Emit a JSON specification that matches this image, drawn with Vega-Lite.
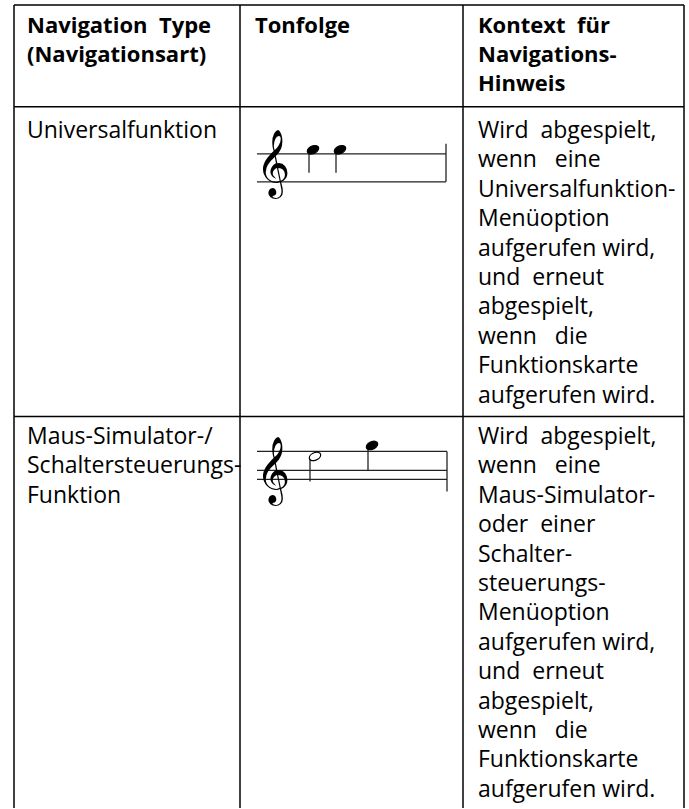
{
  "$schema": "https://vega.github.io/schema/vega-lite/v6.json",
  "width": 689,
  "height": 809,
  "autosize": {"type": "fit", "contains": "padding"},
  "padding": 0,
  "background": "white",
  "config": {"view": {"stroke": null}},
  "datasets": {
    "grid": [
      {"x": 14, "x2": 684, "y": 5, "y2": 5},
      {"x": 14, "x2": 684, "y": 107, "y2": 107},
      {"x": 14, "x2": 684, "y": 417, "y2": 417},
      {"x": 14, "x2": 14, "y": 5, "y2": 809},
      {"x": 240, "x2": 240, "y": 5, "y2": 809},
      {"x": 463, "x2": 463, "y": 5, "y2": 809},
      {"x": 684, "x2": 684, "y": 5, "y2": 809}
    ],
    "texts": [
      {"part": "header", "x": 27, "y": 33, "t": "Navigation\u00a0\u00a0Type"},
      {"part": "header", "x": 27, "y": 62, "t": "(Navigationsart)"},
      {"part": "header", "x": 255, "y": 33, "t": "Tonfolge"},
      {"part": "header", "x": 478, "y": 33, "t": "Kontext\u00a0\u00a0für"},
      {"part": "header", "x": 478, "y": 62, "t": "Navigations-"},
      {"part": "header", "x": 478, "y": 91, "t": "Hinweis"},
      {"part": "body", "x": 27, "y": 138, "t": "Universalfunktion"},
      {"part": "body", "x": 478, "y": 138, "t": "Wird\u00a0\u00a0abgespielt,"},
      {"part": "body", "x": 478, "y": 167, "t": "wenn\u00a0\u00a0\u00a0eine"},
      {"part": "body", "x": 478, "y": 197, "t": "Universalfunktion-"},
      {"part": "body", "x": 478, "y": 226, "t": "Menüoption"},
      {"part": "body", "x": 478, "y": 256, "t": "aufgerufen wird,"},
      {"part": "body", "x": 478, "y": 285, "t": "und\u00a0\u00a0erneut"},
      {"part": "body", "x": 478, "y": 314, "t": "abgespielt,"},
      {"part": "body", "x": 478, "y": 344, "t": "wenn\u00a0\u00a0\u00a0die"},
      {"part": "body", "x": 478, "y": 373, "t": "Funktionskarte"},
      {"part": "body", "x": 478, "y": 403, "t": "aufgerufen wird."},
      {"part": "body", "x": 27, "y": 445, "t": "Maus-Simulator-/"},
      {"part": "body", "x": 27, "y": 474, "t": "Schaltersteuerungs-"},
      {"part": "body", "x": 27, "y": 504, "t": "Funktion"},
      {"part": "body", "x": 478, "y": 445, "t": "Wird\u00a0\u00a0abgespielt,"},
      {"part": "body", "x": 478, "y": 474, "t": "wenn\u00a0\u00a0\u00a0eine"},
      {"part": "body", "x": 478, "y": 504, "t": "Maus-Simulator-"},
      {"part": "body", "x": 478, "y": 533, "t": "oder\u00a0\u00a0einer"},
      {"part": "body", "x": 478, "y": 563, "t": "Schalter-"},
      {"part": "body", "x": 478, "y": 592, "t": "steuerungs-"},
      {"part": "body", "x": 478, "y": 621, "t": "Menüoption"},
      {"part": "body", "x": 478, "y": 651, "t": "aufgerufen wird,"},
      {"part": "body", "x": 478, "y": 680, "t": "und\u00a0\u00a0erneut"},
      {"part": "body", "x": 478, "y": 710, "t": "abgespielt,"},
      {"part": "body", "x": 478, "y": 739, "t": "wenn\u00a0\u00a0\u00a0die"},
      {"part": "body", "x": 478, "y": 768, "t": "Funktionskarte"},
      {"part": "body", "x": 478, "y": 798, "t": "aufgerufen wird."}
    ],
    "staff": [
      {"kind": "line", "x": 257, "x2": 446, "y": 154, "y2": 154},
      {"kind": "line", "x": 257, "x2": 446, "y": 182, "y2": 182},
      {"kind": "bar", "x": 446, "x2": 446, "y": 144, "y2": 182},
      {"kind": "line", "x": 257, "x2": 447, "y": 452, "y2": 452},
      {"kind": "line", "x": 257, "x2": 447, "y": 471, "y2": 471},
      {"kind": "line", "x": 257, "x2": 447, "y": 480, "y2": 480},
      {"kind": "bar", "x": 447, "x2": 447, "y": 452, "y2": 492},
      {"kind": "stem", "x": 309, "x2": 309, "y": 150, "y2": 173},
      {"kind": "stem", "x": 336, "x2": 336, "y": 150, "y2": 173},
      {"kind": "stem", "x": 310, "x2": 310, "y": 457, "y2": 482},
      {"kind": "stem", "x": 368, "x2": 368, "y": 446, "y2": 471}
    ],
    "notes": [
      {"x": 313, "y": 150, "head": "filled"},
      {"x": 340, "y": 150, "head": "filled"},
      {"x": 315, "y": 457, "head": "hollow"},
      {"x": 372, "y": 446, "head": "filled"}
    ],
    "clefs": [
      {"x": 273, "y": 165, "t": "𝄞"},
      {"x": 273, "y": 473, "t": "𝄞"}
    ]
  },
  "layer": [
    {
      "data": {"name": "grid"},
      "mark": {"type": "rule", "color": "#000000", "strokeWidth": 1.5},
      "encoding": {
        "x": {"field": "x", "type": "quantitative", "scale": {"domain": [0, 689], "nice": false, "zero": false}, "axis": null},
        "x2": {"field": "x2"},
        "y": {"field": "y", "type": "quantitative", "scale": {"domain": [0, 809], "nice": false, "zero": false, "reverse": true}, "axis": null},
        "y2": {"field": "y2"}
      }
    },
    {
      "data": {"name": "staff"},
      "mark": {"type": "rule", "color": "#222222", "strokeWidth": 1.3},
      "encoding": {
        "x": {"field": "x", "type": "quantitative", "axis": null},
        "x2": {"field": "x2"},
        "y": {"field": "y", "type": "quantitative", "axis": null},
        "y2": {"field": "y2"},
        "strokeWidth": {"field": "kind", "type": "nominal", "scale": {"domain": ["line", "bar", "stem"], "range": [1.3, 2.2, 1.8]}, "legend": null}
      }
    },
    {
      "data": {"name": "notes"},
      "mark": {"type": "point", "shape": "M-1,0.3 A1,0.62 -25 1 1 1,-0.3 A1,0.62 -25 1 1 -1,0.3 Z", "size": 130, "strokeWidth": 1.2, "opacity": 1},
      "encoding": {
        "x": {"field": "x", "type": "quantitative", "axis": null},
        "y": {"field": "y", "type": "quantitative", "axis": null},
        "fill": {"field": "head", "type": "nominal", "scale": {"domain": ["filled", "hollow"], "range": ["#000000", "#ffffff"]}, "legend": null},
        "stroke": {"value": "#000000"}
      }
    },
    {
      "data": {"name": "clefs"},
      "mark": {"type": "text", "font": "DejaVu Sans", "fontSize": 58, "align": "center", "baseline": "middle", "color": "#000000"},
      "encoding": {
        "x": {"field": "x", "type": "quantitative", "axis": null},
        "y": {"field": "y", "type": "quantitative", "axis": null},
        "text": {"field": "t"}
      }
    },
    {
      "data": {"name": "texts"},
      "transform": [{"filter": "datum.part === 'header'"}],
      "mark": {"type": "text", "font": "Open Sans", "fontSize": 22, "fontWeight": "bold", "align": "left", "baseline": "alphabetic", "color": "#000000"},
      "encoding": {
        "x": {"field": "x", "type": "quantitative", "axis": null},
        "y": {"field": "y", "type": "quantitative", "axis": null},
        "text": {"field": "t"}
      }
    },
    {
      "data": {"name": "texts"},
      "transform": [{"filter": "datum.part === 'body'"}],
      "mark": {"type": "text", "font": "Open Sans", "fontSize": 23, "align": "left", "baseline": "alphabetic", "color": "#000000"},
      "encoding": {
        "x": {"field": "x", "type": "quantitative", "axis": null},
        "y": {"field": "y", "type": "quantitative", "axis": null},
        "text": {"field": "t"}
      }
    }
  ]
}
